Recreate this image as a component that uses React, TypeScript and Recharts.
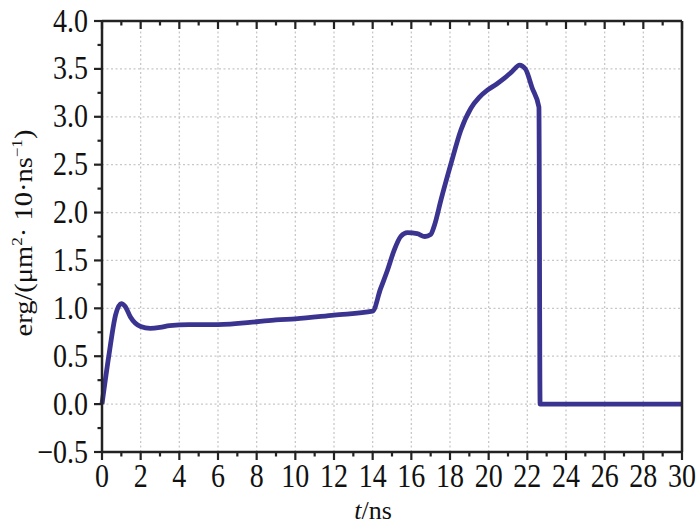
import { Line, LineChart, ReferenceLine, XAxis, YAxis } from "recharts"

// t in ns, erg in µm²·10·ns⁻¹
const tValues = [
  0, 0.35, 0.7, 1.0, 1.2, 1.47, 2.0, 2.5, 3.0, 3.5, 4.5, 6, 8, 9, 10, 12, 14, 14.4, 14.77, 15.1, 15.45, 15.8, 16.3,
  16.7, 17.0, 17.2, 17.53, 18.05, 18.56, 19.08, 19.5, 19.95, 20.4, 20.8, 21.2, 21.6, 21.9, 22.25, 22.6, 22.66, 30,
]
const ergValues = [
  0, 0.5, 0.93, 1.05, 1.02, 0.91, 0.81, 0.79, 0.8, 0.82, 0.83, 0.83, 0.86, 0.88, 0.89, 0.93, 0.97, 1.2, 1.4, 1.6,
  1.75, 1.79, 1.78, 1.75, 1.77, 1.87, 2.13, 2.51, 2.86, 3.09, 3.2, 3.28, 3.34, 3.4, 3.47, 3.54, 3.5, 3.3, 3.1, 0, 0,
]

const xMajor = [0, 2, 4, 6, 8, 10, 12, 14, 16, 18, 20, 22, 24, 26, 28, 30]
const xMinor = [1, 3, 5, 7, 9, 11, 13, 15, 17, 19, 21, 23, 25, 27, 29]
const yMajor = [-0.5, 0, 0.5, 1.0, 1.5, 2.0, 2.5, 3.0, 3.5, 4.0]
const yMinor = [-0.25, 0.25, 0.75, 1.25, 1.75, 2.25, 2.75, 3.25, 3.75]

const data = tValues.map((t, i) => ({ t, erg: ergValues[i] }))
const xAll = [...xMajor, ...xMinor].sort((a, b) => a - b)
const yAll = [...yMajor, ...yMinor].sort((a, b) => a - b)
const xGrid = xMajor.slice(1, -1)
const yGrid = yMajor.slice(1, -1)

const SERIF = "'Liberation Serif', 'Times New Roman', serif"
const AXIS = "#222"
const MAJOR = 8
const MINOR = 4.5

const fmtY = (v: number) => v.toFixed(1).replace("-", "\u2212")

function BottomTick({ x, y, payload }: any) {
  const major = xMajor.includes(payload.value)
  return (
    <g>
      <line x1={x} y1={y} x2={x} y2={y + (major ? MAJOR : MINOR)} stroke={AXIS} strokeWidth={2.2} />
      {major && (
        <text transform={`translate(${x},${y + 35}) scale(1,1.17)`} textAnchor="middle" fontSize={28} fontFamily={SERIF} fill="#111">
          {payload.value}
        </text>
      )}
    </g>
  )
}

function TopTick({ x, y, payload }: any) {
  const major = xMajor.includes(payload.value)
  return <line x1={x} y1={y} x2={x} y2={y + (major ? MAJOR : MINOR)} stroke={AXIS} strokeWidth={2.2} />
}

function LeftTick({ x, y, payload }: any) {
  const major = yMajor.includes(payload.value)
  return (
    <g>
      <line x1={x} y1={y} x2={x - (major ? MAJOR : MINOR)} y2={y} stroke={AXIS} strokeWidth={2.2} />
      {major && (
        <text transform={`translate(${x - 14},${y + 10.5}) scale(1,1.17)`} textAnchor="end" fontSize={28} fontFamily={SERIF} fill="#111">
          {fmtY(payload.value)}
        </text>
      )}
    </g>
  )
}

function RightTick({ x, y, payload }: any) {
  const major = yMajor.includes(payload.value)
  return <line x1={x} y1={y} x2={x - (major ? MAJOR : MINOR)} y2={y} stroke={AXIS} strokeWidth={2.2} />
}

const gridStyle = { stroke: "#c8c8c8", strokeWidth: 1.3, strokeDasharray: "2 2.5" }

export default function App() {
  return (
    <div style={{ position: "absolute", left: 0, top: 0, background: "#fff" }}>
      <LineChart width={700} height={525} data={data} margin={{ top: 20, right: 17, bottom: 0, left: 0 }}>
        <XAxis
          xAxisId="b"
          dataKey="t"
          type="number"
          domain={[0, 30]}
          ticks={xAll}
          interval={0}
          height={73}
          tickSize={0}
          tickMargin={0}
          tickLine={false}
          axisLine={{ stroke: AXIS, strokeWidth: 2.5 }}
          tick={(p: any) => <BottomTick {...p} />}
        />
        <XAxis
          xAxisId="t"
          orientation="top"
          dataKey="t"
          type="number"
          domain={[0, 30]}
          ticks={xAll}
          interval={0}
          height={1}
          tickSize={0}
          tickMargin={0}
          tickLine={false}
          axisLine={{ stroke: AXIS, strokeWidth: 2.5 }}
          tick={(p: any) => <TopTick {...p} />}
        />
        <YAxis
          yAxisId="l"
          type="number"
          domain={[-0.5, 4]}
          ticks={yAll}
          interval={0}
          width={102}
          tickSize={0}
          tickMargin={0}
          tickLine={false}
          axisLine={{ stroke: AXIS, strokeWidth: 2.5 }}
          tick={(p: any) => <LeftTick {...p} />}
          label={{
            content: () => (
              <text
                transform="translate(32,233) rotate(-90) scale(1.14,1)"
                textAnchor="middle"
                fontSize={25}
                fontFamily={SERIF}
                fill="#111"
              >
                erg/(μm
                <tspan fontSize={15} dy={-10}>2</tspan>
                <tspan dy={10}>· 10·ns</tspan>
                <tspan fontSize={15} dy={-10}>−1</tspan>
                <tspan dy={10}>)</tspan>
              </text>
            ),
          }}
        />
        <YAxis
          yAxisId="r"
          orientation="right"
          type="number"
          domain={[-0.5, 4]}
          ticks={yAll}
          interval={0}
          width={1}
          tickSize={0}
          tickMargin={0}
          tickLine={false}
          axisLine={{ stroke: AXIS, strokeWidth: 2.5 }}
          tick={(p: any) => <RightTick {...p} />}
        />
        {xGrid.map((v) => (
          <ReferenceLine key={`gx${v}`} xAxisId="b" yAxisId="l" x={v} {...gridStyle} />
        ))}
        {yGrid.map((v) => (
          <ReferenceLine key={`gy${v}`} xAxisId="b" yAxisId="l" y={v} {...gridStyle} />
        ))}
        <Line
          xAxisId="b"
          yAxisId="l"
          type="monotone"
          dataKey="erg"
          stroke="#3a3490"
          strokeWidth={4.8}
          strokeLinejoin="round"
          dot={false}
          isAnimationActive={false}
        />
        <text x={373} y={519} textAnchor="middle" fontSize={26} fontFamily={SERIF} fill="#111">
          <tspan fontStyle="italic">t</tspan>/ns
        </text>
      </LineChart>
    </div>
  )
}
